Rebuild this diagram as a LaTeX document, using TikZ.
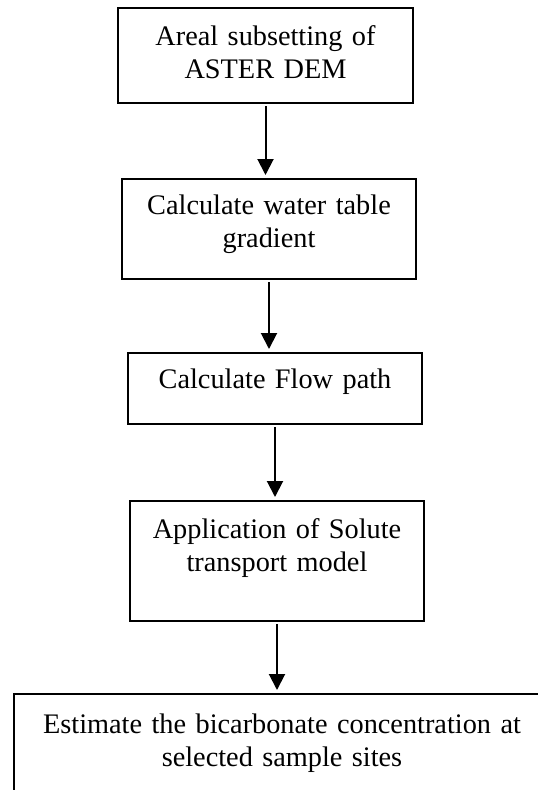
\documentclass[tikz,border=0pt]{standalone}
\usepackage{fontspec}
\setmainfont{Liberation Serif}
\usetikzlibrary{arrows.meta}

\begin{document}
\begin{tikzpicture}[x=1pt,y=-1pt,
	box/.style={draw,line width=2pt,inner sep=0pt,align=center,anchor=north west,font=\fontsize{28.3}{33.5}\selectfont},
	flow/.style={-{Triangle[width=16pt,length=16pt]},line width=2pt,shorten >=3pt,shorten <=2pt}]
\useasboundingbox (0,0) rectangle (538,790);
\clip (0,0) rectangle (538,790);
\node[box,text width=295pt,text height=37pt,text depth=58pt] at (117,7) (subset) {Areal subsetting of\\ASTER DEM};
\node[box,text width=294pt,text height=35pt,text depth=65pt] at (121,178) (gradient) {Calculate water table\\gradient};
\node[box,text width=294pt,text height=35pt,text depth=36pt] at (127,352) (flowpath) {Calculate Flow path};
\node[box,text width=294pt,text height=37pt,text depth=83pt] at (129,500) (solute) {Application of Solute\\transport model};
\node[box,text width=536pt,text height=39pt,text depth=98pt] at (13,693) (estimate) {Estimate the bicarbonate concentration at\\selected sample sites};
\draw[flow] (subset.south) -- (subset.south |- gradient.north);
\draw[flow] (gradient.south) -- (gradient.south |- flowpath.north);
\draw[flow] (flowpath.south) -- (flowpath.south |- solute.north);
\draw[flow] (solute.south) -- (solute.south |- estimate.north);
\end{tikzpicture}
\end{document}
